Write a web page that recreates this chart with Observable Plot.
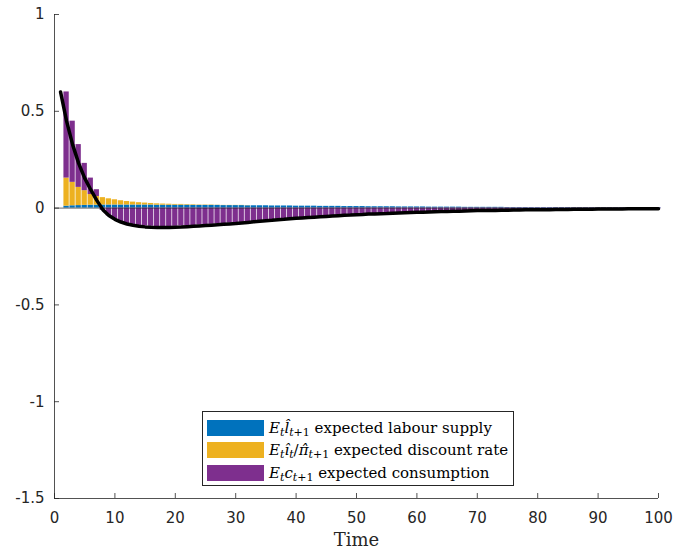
<!DOCTYPE html>
<html>
<head>
<meta charset="utf-8">
<script src="https://cdn.jsdelivr.net/npm/d3@7"></script>
<script src="https://cdn.jsdelivr.net/npm/@observablehq/plot@0.6"></script>
<style>
  body { margin: 0; background: #fff; }
  #wrap { position: relative; width: 673px; height: 555px; }
  #legend { position: absolute; left: 202px; top: 411px; width: 310px; height: 73px;
    border: 1px solid #262626; background: #fff; font-family: "DejaVu Serif"; font-size: 15px; color: #000; }
  .row { position: absolute; left: 4px; height: 16px; display: flex; align-items: center; white-space: nowrap; }
  .sw { display: inline-block; width: 57px; height: 16px; margin-right: 5px; }
  sub { font-size: 11px; vertical-align: -3px; line-height: 0; }
</style>
</head>
<body>
<div id="wrap"><div id="chart"></div><div id="legend"></div></div>
<script>
// ---- data ----
const seriesNames = ["labour", "discount", "consumption"];
const seriesColors = ["#0072BD", "#EDB120", "#7E2F8E"];
const legendMath = [
  "<i>E</i><sub><i>t</i></sub><i>l̂</i><sub><i>t</i>+1</sub>",
  "<i>E</i><sub><i>t</i></sub><i>î</i><sub><i>t</i></sub>/<i>π̂</i><sub><i>t</i>+1</sub>",
  "<i>E</i><sub><i>t</i></sub><i>c</i><sub><i>t</i>+1</sub>"
];
const legendText = ["expected labour supply", "expected discount rate", "expected consumption"];
const xTicks = [0, 10, 20, 30, 40, 50, 60, 70, 80, 90, 100];
const yTicks = [-1.5, -1, -0.5, 0, 0.5, 1];
const xLabel = "Time";

// bars: periods 2..100
const barPeriods = d3.range(2, 101);
const labourSupply = [
  0.010,0.012,0.013,0.014,0.015,0.015,0.016,0.016,0.016,0.016,
  0.016,0.016,0.016,0.016,0.016,0.015,0.015,0.015,0.015,0.015,
  0.015,0.014,0.014,0.014,0.014,0.014,0.013,0.013,0.013,0.013,
  0.012,0.012,0.012,0.012,0.011,0.011,0.011,0.011,0.010,0.010,
  0.010,0.010,0.009,0.009,0.009,0.009,0.008,0.008,0.008,0.008,
  0.007,0.007,0.007,0.007,0.007,0.006,0.006,0.006,0.006,0.006,
  0.005,0.005,0.005,0.005,0.005,0.005,0.004,0.004,0.004,0.004,
  0.004,0.004,0.004,0.003,0.003,0.003,0.003,0.003,0.003,0.003,
  0.003,0.003,0.003,0.003,0.002,0.002,0.002,0.002,0.002,0.002,
  0.002,0.002,0.002,0.002,0.002,0.002,0.002,0.002,0.002
];
const discountRate = [
  0.145,0.121,0.094,0.076,0.055,0.045,0.038,0.032,0.027,0.022,
  0.018,0.015,0.012,0.010,0.008,0.007,0.006,0.005,0.004,0.004,
  0.003,0.003,0.002,0.002,0.002,0.001,0.001,0.001,0.001,0.001,
  0.001,0,0,0,0,0,0,0,0,0,
  0,0,0,0,0,0,0,0,0,0,
  0,0,0,0,0,0,0,0,0,0,
  0,0,0,0,0,0,0,0,0,0,
  0,0,0,0,0,0,0,0,0,0,
  0,0,0,0,0,0,0,0,0,0,
  0,0,0,0,0,0,0,0,0
];
const consumption = [
  0.445,0.316,0.221,0.141,0.085,0.035,-0.012,-0.040,-0.058,-0.071,
  -0.080,-0.086,-0.090,-0.093,-0.094,-0.095,-0.095,-0.095,-0.094,-0.093,
  -0.092,-0.090,-0.088,-0.086,-0.084,-0.082,-0.080,-0.078,-0.076,-0.074,
  -0.072,-0.069,-0.066,-0.063,-0.061,-0.058,-0.056,-0.054,-0.051,-0.049,
  -0.047,-0.045,-0.043,-0.041,-0.039,-0.037,-0.035,-0.034,-0.032,-0.031,
  -0.029,-0.028,-0.027,-0.026,-0.024,-0.023,-0.022,-0.021,-0.020,-0.019,
  -0.018,-0.017,-0.016,-0.015,-0.014,-0.014,-0.013,-0.012,-0.011,-0.011,
  -0.010,-0.010,-0.009,-0.009,-0.008,-0.008,-0.007,-0.007,-0.006,-0.006,
  -0.006,-0.005,-0.005,-0.005,-0.004,-0.004,-0.004,-0.004,-0.004,-0.004,
  -0.003,-0.003,-0.003,-0.003,-0.003,-0.003,-0.003,-0.003,-0.003
];

// total response line: periods 1..100
const linePeriods = d3.range(1, 101);
const totalResponse = [
  0.600,0.449,0.328,0.231,0.155,0.095,0.040,-0.008,-0.038,-0.058,
  -0.072,-0.082,-0.089,-0.094,-0.097,-0.099,-0.100,-0.100,-0.100,-0.099,
  -0.098,-0.096,-0.094,-0.092,-0.090,-0.088,-0.086,-0.084,-0.082,-0.080,
  -0.077,-0.074,-0.071,-0.068,-0.065,-0.063,-0.060,-0.058,-0.055,-0.053,
  -0.051,-0.049,-0.047,-0.045,-0.043,-0.041,-0.039,-0.037,-0.036,-0.034,
  -0.033,-0.031,-0.030,-0.029,-0.028,-0.026,-0.025,-0.024,-0.023,-0.022,
  -0.021,-0.020,-0.019,-0.018,-0.017,-0.016,-0.016,-0.015,-0.014,-0.013,
  -0.013,-0.012,-0.012,-0.011,-0.011,-0.010,-0.010,-0.009,-0.009,-0.008,
  -0.008,-0.008,-0.007,-0.007,-0.007,-0.006,-0.006,-0.006,-0.006,-0.005,
  -0.005,-0.005,-0.005,-0.005,-0.004,-0.004,-0.004,-0.004,-0.004,-0.004
];

// ---- build tables ----
const seriesValues = [labourSupply, discountRate, consumption];
const barData = seriesNames.flatMap((s, k) =>
  barPeriods.map((t, i) => ({t, series: s, value: seriesValues[k][i]})));
const lineData = linePeriods.map((t, i) => ({t, value: totalResponse[i]}));

const ink = "#262626";
const chart = Plot.plot({
  width: 673, height: 555,
  marginTop: 14, marginBottom: 57, marginLeft: 54, marginRight: 15,
  style: {fontFamily: "DejaVu Sans", fontSize: "15px", color: ink, background: "white"},
  x: {domain: [0, 100], label: null},
  y: {domain: [-1.5, 1], label: null},
  color: {domain: seriesNames, range: seriesColors},
  marks: [
    Plot.rectY(barData, Plot.stackY({
      x: "t", x1: d => d.t - 0.44, x2: d => d.t + 0.44, y: "value", fill: "series"
    })),
    Plot.ruleY([0], {stroke: ink, strokeWidth: 0.7}),
    Plot.lineY(lineData, {x: "t", y: "value", stroke: "black", strokeWidth: 3.5}),
    // axis lines
    Plot.ruleX([0], {stroke: ink, strokeWidth: 0.8}),
    Plot.ruleY([-1.5], {stroke: ink, strokeWidth: 0.8}),
    // inward ticks
    Plot.axisX(xTicks, {tickSize: 5, dy: -5, fill: "none", stroke: ink, strokeWidth: 0.8}),
    Plot.axisY(yTicks, {tickSize: 5, dx: 5, fill: "none", stroke: ink, strokeWidth: 0.8}),
    // tick labels
    Plot.axisX(xTicks, {tickSize: 0, tickPadding: 14, tickFormat: d => String(d), label: null, fill: ink}),
    Plot.axisY(yTicks, {tickSize: 0, tickPadding: 10, tickFormat: d => String(d), label: null, fill: ink}),
    Plot.text([xLabel], {text: d => d, frameAnchor: "bottom", dy: 47, fontFamily: "DejaVu Serif", fontSize: 18, fill: ink})
  ]
});
document.getElementById("chart").appendChild(chart);

// legend
const legend = document.getElementById("legend");
const rowTops = [8, 30, 53];
seriesNames.forEach((s, k) => {
  const row = document.createElement("div");
  row.className = "row";
  row.style.top = rowTops[k] + "px";
  row.innerHTML = `<span class="sw" style="background:${seriesColors[k]}"></span><span>${legendMath[k]} ${legendText[k]}</span>`;
  legend.appendChild(row);
});
</script>
</body>
</html>
